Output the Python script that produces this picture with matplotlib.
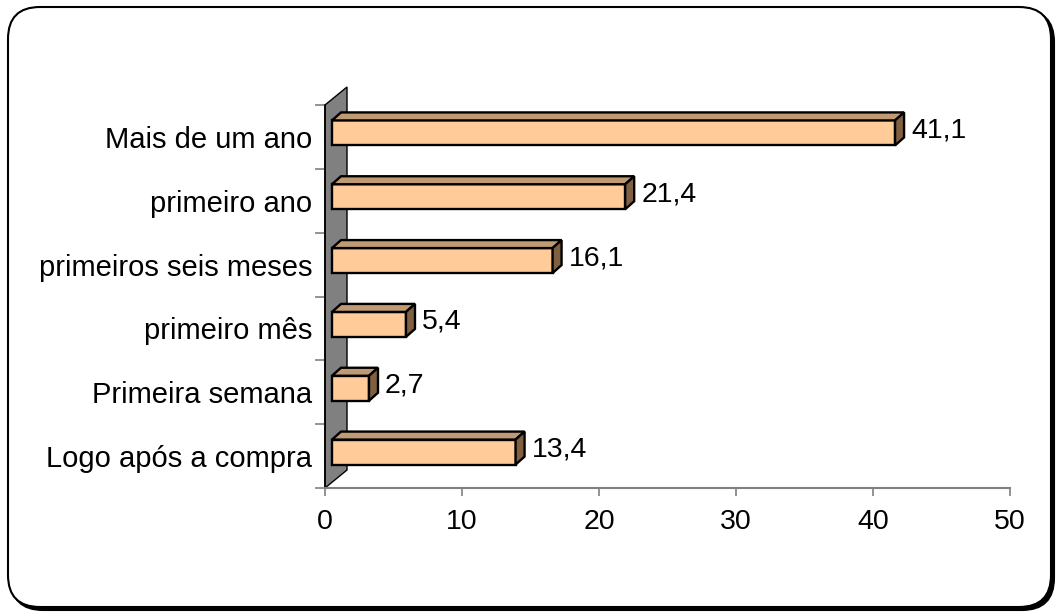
import matplotlib
matplotlib.use("Agg")
import matplotlib.pyplot as plt
from matplotlib.patches import Polygon, FancyBboxPatch

categorias = ["Logo após a compra", "Primeira semana", "primeiro mês",
              "primeiros seis meses", "primeiro ano", "Mais de um ano"]
valores = [13.4, 2.7, 5.4, 16.1, 21.4, 41.1]
rotulos = ["13,4", "2,7", "5,4", "16,1", "21,4", "41,1"]
xticks = [0, 10, 20, 30, 40, 50]

plt.rcParams['font.family'] = ['Liberation Sans', 'DejaVu Sans']

W, H = 1059, 616
fig = plt.figure(figsize=(W / 100, H / 100), dpi=100)

# moldura arredondada com sombra
sombra = FancyBboxPatch((11, 6), 1043, 600, boxstyle="round,pad=0,rounding_size=32",
                        transform=None, facecolor="black", edgecolor="black", lw=1.5, zorder=-2)
moldura = FancyBboxPatch((8, 9), 1043, 600, boxstyle="round,pad=0,rounding_size=32",
                         transform=None, facecolor="white", edgecolor="black", lw=1.5, zorder=-1)
fig.add_artist(sombra)
fig.add_artist(moldura)

# área do gráfico em pixels
x0p, x1p, y0p, y1p = 325, 1010, 488, 105
ax = fig.add_axes([x0p / W, 1 - y0p / H, (x1p - x0p) / W, (y0p - y1p) / H])
ax.set_xlim(0, 50)
ax.set_ylim(0, len(categorias))
ax.patch.set_visible(False)

sx = (x1p - x0p) / 50.0          # pixels por unidade em x
sy = (y0p - y1p) / len(categorias)  # pixels por categoria

# parede lateral cinza
wx, wy = 22 / sx, 18 / sy
parede = Polygon([(0, 0), (wx, wy), (wx, len(categorias) + wy), (0, len(categorias))],
                 closed=True, facecolor="#808080", edgecolor="black", lw=1, clip_on=False, zorder=1)
ax.add_patch(parede)

# barras em perspectiva
dx, dy = 9 / sx, 8 / sy
desl = 7 / sx
meia = 12.5 / sy
for i, (v, r) in enumerate(zip(valores, rotulos)):
    yc = i + 0.5 + 4 / sy
    xa, xb = desl, desl + v
    yb, yt = yc - meia, yc + meia
    frente = Polygon([(xa, yb), (xb, yb), (xb, yt), (xa, yt)], closed=True,
                     facecolor="#FFCC99", edgecolor="black", lw=1.7, clip_on=False, zorder=3)
    topo = Polygon([(xa, yt), (xb, yt), (xb + dx, yt + dy), (xa + dx, yt + dy)], closed=True,
                   facecolor="#C09A72", edgecolor="black", lw=1.7, clip_on=False, zorder=3)
    lado = Polygon([(xb, yb), (xb + dx, yb + dy), (xb + dx, yt + dy), (xb, yt)], closed=True,
                   facecolor="#806040", edgecolor="black", lw=1.7, clip_on=False, zorder=3)
    for p in (frente, topo, lado):
        ax.add_patch(p)
    ax.text(xb + dx + 7 / sx, yc + dy / 2 - 1.5 / sy, r, ha="left", va="center",
            fontsize=20.5, zorder=4)

# eixos
for lado_ax in ("top", "right"):
    ax.spines[lado_ax].set_visible(False)
ax.spines["bottom"].set_color("#808080")
ax.spines["bottom"].set_linewidth(1.5)
ax.spines["left"].set_color("black")
ax.spines["left"].set_linewidth(1.2)
ax.set_xticks(xticks)
ax.set_xticklabels([str(t) for t in xticks], fontsize=20.5)
ax.set_yticks(range(len(categorias) + 1))
ax.set_yticklabels([])
ax.set_yticks([i + 0.5 for i in range(len(categorias))], minor=True)
ax.set_yticklabels(categorias, minor=True, fontsize=21)
ax.tick_params(axis="x", direction="out", length=6, width=1.2, color="#808080", pad=9)
ax.tick_params(axis="y", which="major", direction="out", length=7, width=1.2, color="#808080")
ax.tick_params(axis="y", which="minor", length=0, pad=9)

fig.savefig("out.png", dpi=100)
